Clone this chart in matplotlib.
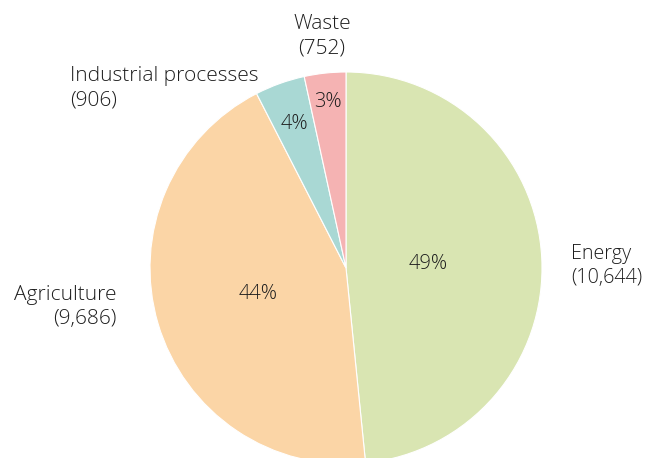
import numpy as np
import matplotlib
matplotlib.use("Agg")
import matplotlib.pyplot as plt

categories = ["Energy", "Agriculture", "Industrial processes", "Waste"]
values = [10644, 9686, 906, 752]
value_labels = ["(10,644)", "(9,686)", "(906)", "(752)"]
pct_labels = ["49%", "44%", "4%", "3%"]
colors = ["#d9e5b2", "#fbd5a6", "#a9d8d4", "#f5b3b3"]

plt.rcParams['font.family'] = ['Open Sans', 'DejaVu Sans']
txt_color = "#1e1e1e"
fw = 300

W, H = 646, 458
fig = plt.figure(figsize=(W / 100, H / 100), dpi=100)
ax = fig.add_axes([0, 0, 1, 1])

cx, cy, R = 346, H - 268, 196
wedges, _ = ax.pie(values, colors=colors, startangle=90, counterclock=False,
                   center=(cx, cy), radius=R, frame=True,
                   wedgeprops=dict(edgecolor='white', linewidth=0.8))
ax.set_xlim(0, W)
ax.set_ylim(0, H)
ax.set_aspect('equal')
ax.axis('off')

pct_dist = [0.42, 0.47, 0.78, 0.85]
for w, lab, d in zip(wedges, pct_labels, pct_dist):
    ang = np.deg2rad((w.theta1 + w.theta2) / 2)
    ax.text(cx + d * R * np.cos(ang), cy + d * R * np.sin(ang), lab,
            ha='center', va='center', fontsize=14.5, color=txt_color,
            fontweight=fw)

# outside labels
label_pos = [(571, H - 266, 'left', 14.2), (117, H - 307, 'right', 15),
             (70, H - 88, 'left', 15), (322, H - 36, 'center', 15)]
for (x, y, ha, fs), name, v in zip(label_pos, categories, value_labels):
    ax.text(x, y, f"{name}\n{v}", ha=ha, va='center', fontsize=fs,
            color=txt_color, multialignment=ha, linespacing=1.32,
            fontweight=fw)

fig.savefig("out.png", dpi=100)
